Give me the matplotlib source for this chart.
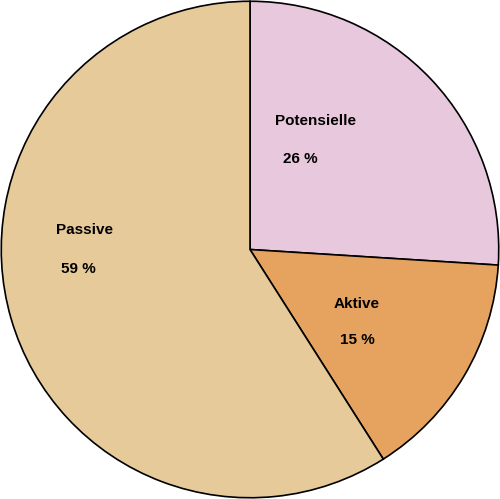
import matplotlib
matplotlib.use("Agg")
import matplotlib.pyplot as plt

labels = ["Potensielle", "Aktive", "Passive"]
values = [26, 15, 59]
colors = ["#E8C8DC", "#E6A35F", "#E6CA99"]
label_pos = [(0.10, 0.514), (0.333, -0.22), (-0.775, 0.08)]
pct_pos = [(0.133, 0.361), (0.361, -0.361), (-0.755, -0.08)]

fig = plt.figure(figsize=(5.0, 4.99), dpi=100)
ax = fig.add_axes([0, 0, 1, 1])
ax.pie(values, colors=colors, startangle=90, counterclock=False, radius=0.995,
       wedgeprops=dict(edgecolor="black", linewidth=1.2))
for lab, v, (lx, ly), (px, py) in zip(labels, values, label_pos, pct_pos):
    ax.text(lx, ly, lab, fontsize=11, fontweight="bold", family="Liberation Sans", va="center", ha="left")
    ax.text(px, py, f"{v} %", fontsize=11, fontweight="bold", family="Liberation Sans", va="center", ha="left")
ax.set_xlim(-1, 1)
ax.set_ylim(-1, 1)
ax.set_aspect("auto")
ax.axis("off")
fig.savefig("out.png", dpi=100)
